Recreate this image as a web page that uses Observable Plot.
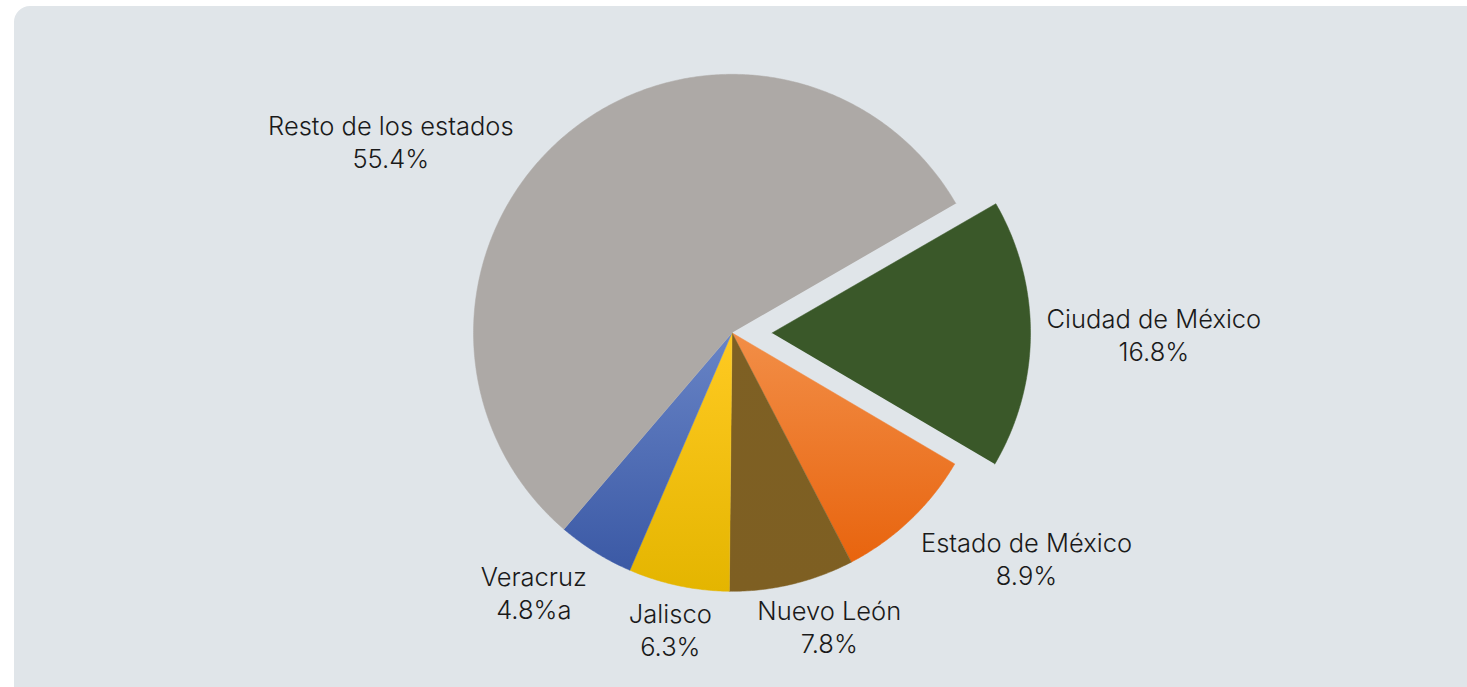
<!DOCTYPE html>
<html>
<head>
<meta charset="utf-8">
<script src="https://cdn.jsdelivr.net/npm/d3@7"></script>
<script src="https://cdn.jsdelivr.net/npm/@observablehq/plot@0.6"></script>
<style>
  html, body { margin: 0; padding: 0; background: #ffffff; }
  #wrap { position: relative; width: 1467px; height: 687px; overflow: hidden; }
  #panel { position: absolute; left: 14px; top: 6px; width: 1480px; height: 700px;
           border-radius: 16px; background: #E0E5E9; }
  #chart { position: absolute; left: 0; top: 0; }
</style>
</head>
<body>
<div id="wrap"><div id="panel"></div><div id="chart"></div></div>
<script>
// ---- data ----
const categories = ["Ciudad de México", "Estado de México", "Nuevo León", "Jalisco", "Veracruz", "Resto de los estados"];
const shares = [16.8, 8.9, 7.8, 6.3, 4.8, 55.4];
const shareLabels = ["16.8%", "8.9%", "7.8%", "6.3%", "4.8%a", "55.4%"];
const exploded = ["Ciudad de México"];

// ---- style / layout ----
const colorsTop    = ["#3A5829", "#F28E47", "#7E6024", "#FFCA22", "#6884C6", "#ADA9A6"];
const colorsBottom = ["#3A5829", "#E8640E", "#7E5F22", "#E4B500", "#3B59A5", "#ADA9A6"];
const labelAngleNudge = [0, 0, 0, -2, 0, -13]; // degrees
const W = 1467, H = 687;
const CX = 731.5, CY = 332.3, R = 258.5;
const startDeg = 60, explodePx = 40, labelGap = 16;
const fontSize = 25.5, lineH = 33;
const fontFamily = "Inter, Roboto, 'Liberation Sans', Arial, sans-serif";

// ---- geometry from data ----
const total = d3.sum(shares);
let cum = 0;
const slices = categories.map((name, i) => {
  const a0 = (startDeg * Math.PI / 180) + cum / total * 2 * Math.PI;
  cum += shares[i];
  const a1 = (startDeg * Math.PI / 180) + cum / total * 2 * Math.PI;
  const mid = (a0 + a1) / 2;
  const off = exploded.includes(name) ? explodePx : 0;
  const cx = CX + off * Math.sin(mid), cy = CY - off * Math.cos(mid);
  const pts = [{x: cx, y: cy}];
  const n = Math.max(8, Math.ceil((a1 - a0) / (Math.PI / 360)));
  for (let k = 0; k <= n; k++) {
    const a = a0 + (a1 - a0) * k / n;
    pts.push({x: cx + R * Math.sin(a), y: cy - R * Math.cos(a)});
  }
  return {name, i, a0, a1, mid, cx, cy, pts};
});

// text measuring
const ctx = document.createElement("canvas").getContext("2d");
ctx.font = `300 ${fontSize}px ${fontFamily}`;
const clamp = v => Math.max(-1, Math.min(1, v));
const labels = slices.map(s => {
  const text = `${s.name}\n${shareLabels[s.i]}`;
  const w = d3.max(text.split("\n"), t => ctx.measureText(t).width);
  const hw = w / 2, hh = 26;
  const th = s.mid + labelAngleNudge[s.i] * Math.PI / 180;
  const ax = s.cx + (R + labelGap) * Math.sin(th);
  const ay = s.cy - (R + labelGap) * Math.cos(th);
  return {x: ax + hw * clamp(2 * Math.sin(th)), y: ay + hh * clamp(-2 * Math.cos(th)), text};
});

const defsMark = () => {
  const defs = d3.create("svg:defs");
  slices.forEach(s => {
    const g = defs.append("linearGradient").attr("id", `grad${s.i}`)
      .attr("x1", 0).attr("y1", 0).attr("x2", 0).attr("y2", 1);
    g.append("stop").attr("offset", "0%").attr("stop-color", colorsTop[s.i]);
    g.append("stop").attr("offset", "100%").attr("stop-color", colorsBottom[s.i]);
  });
  return defs.node();
};

const chart = Plot.plot({
  width: W, height: H,
  marginTop: 0, marginRight: 0, marginBottom: 0, marginLeft: 0,
  x: {domain: [0, W], range: [0, W], axis: null},
  y: {domain: [0, H], range: [0, H], axis: null},
  style: {background: "none", overflow: "visible"},
  marks: [
    defsMark,
    ...slices.map(s => Plot.line(s.pts, {
      x: "x", y: "y", fill: `url(#grad${s.i})`, stroke: `url(#grad${s.i})`, strokeWidth: 0.5, curve: "linear"
    })),
    Plot.text(labels, {
      x: "x", y: "y", text: "text", textAnchor: "middle", lineAnchor: "middle",
      lineHeight: lineH / fontSize, fontSize, fontFamily, fontWeight: 300, fill: "#1A1A1A"
    })
  ]
});
document.getElementById("chart").appendChild(chart);
</script>
</body>
</html>
